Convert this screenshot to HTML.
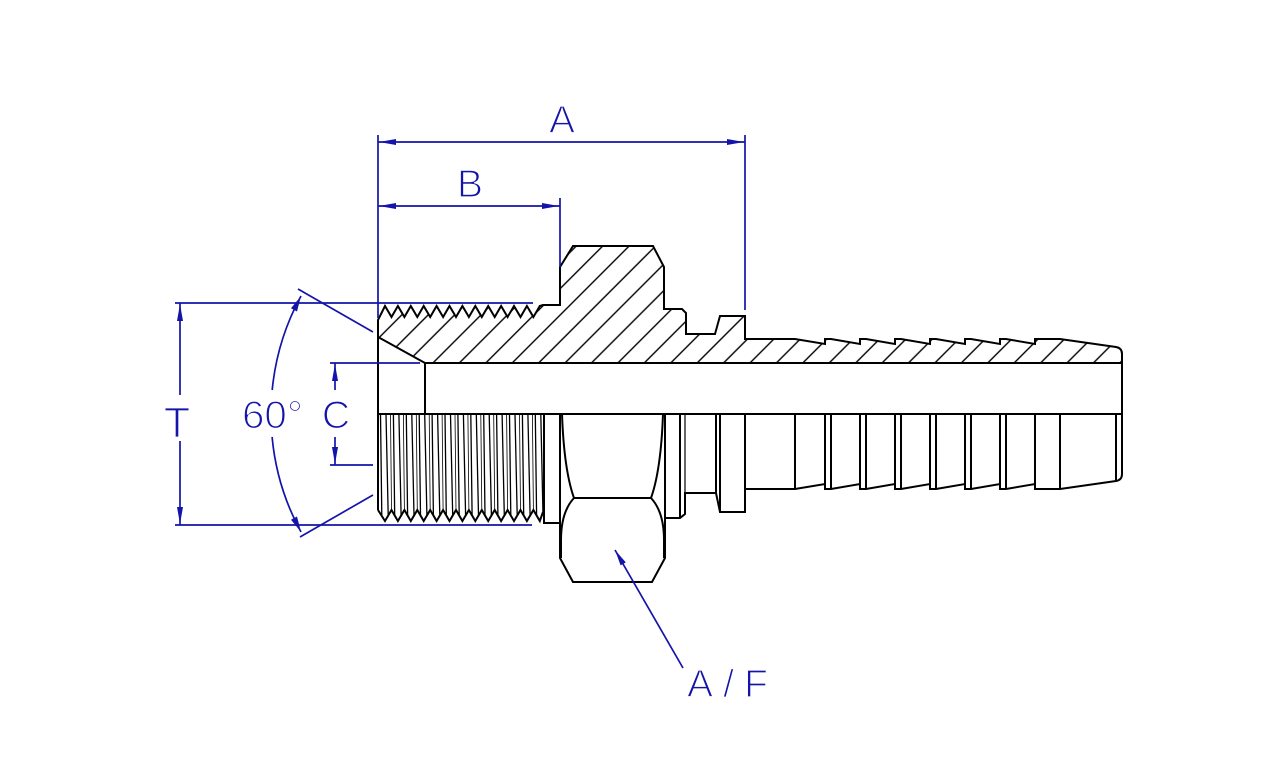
<!DOCTYPE html>
<html><head><meta charset="utf-8"><style>
html,body{margin:0;padding:0;background:#fff;}
svg{display:block;}
text{font-family:"Liberation Sans",sans-serif;fill:#1414aa;stroke:#fff;stroke-width:1.3px;paint-order:fill;}
</style></head><body>
<svg width="1280" height="760" viewBox="0 0 1280 760" xmlns="http://www.w3.org/2000/svg">
<defs>
<pattern id="h" patternUnits="userSpaceOnUse" width="18.68" height="20" patternTransform="rotate(45)">
<line x1="2.4" y1="-1" x2="2.4" y2="21" stroke="#000" stroke-width="1.4"/>
</pattern>
</defs>
<rect width="1280" height="760" fill="#fff"/>

<!-- sectioned upper half -->
<path d="M378,337 L378,320 L385,306 L391.5,317 L397.9,306 L404.4,317 L410.8,306 L417.3,317 L423.7,306 L430.2,317 L436.6,306 L443.1,317 L449.5,306 L456,317 L462.4,306 L468.9,317 L475.3,306 L481.8,317 L488.2,306 L494.7,317 L501.1,306 L507.6,317 L514,306 L520.5,317 L526.9,306 L533.4,317 L539.8,306 L543,305 L560,305 L560,267 L573,246 L653,246 L664,267 L664,309 L682,309 L686,313 L686,334 L715,334 L720,316 L745,316 L745,339 L795,339 L825,344 L825,339 L831,339 L860,344 L860,339 L866,339 L895,344 L895,339 L901,339 L930,344 L930,339 L936,339 L965,344 L965,339 L971,339 L1000,344 L1000,339 L1006,339 L1035,344 L1035,339 L1060,339 L1116,347 Q1122,348 1122,354 L1122,363 L425,363 Z" fill="url(#h)" stroke="#000" stroke-width="2" stroke-linejoin="miter"/>

<g stroke="#000" stroke-width="2" fill="none">
<path d="M378,320 L378,510"/>
<path d="M425,363 L425,414"/>
<path d="M378,414 L1122,414"/>
<!-- bottom thread zigzag -->
<path d="M378,510 L385,521 L391.5,510 L397.9,521 L404.4,510 L410.8,521 L417.3,510 L423.7,521 L430.2,510 L436.6,521 L443.1,510 L449.5,521 L456,510 L462.4,521 L468.9,510 L475.3,521 L481.8,510 L488.2,521 L494.7,510 L501.1,521 L507.6,510 L514,521 L520.5,510 L526.9,521 L533.4,510 L539.8,521 L543,512"/>
<path d="M544,414 L544,523 L560,523"/>
<!-- hex lower -->
<path d="M560,414 L560,558 L573,582 L652,582 L665,558 L665,414"/>
<path d="M562,414 Q564,470 574,498 L651,498 Q661,470 663,414"/>
<path d="M574,498 Q561,512 561,540 L561,558"/>
<path d="M651,498 Q664,512 664,540 L664,558"/>
<!-- rings and barbs lower -->
<path d="M665,518 L680,518 L685,514 L685,493 L716,493 L720,512 L745,512 L745,489 L795,489 L825,484 L825,489 L831,489 L860,484 L860,489 L866,489 L895,484 L895,489 L901,489 L930,484 L930,489 L936,489 L965,484 L965,489 L971,489 L1000,484 L1000,489 L1006,489 L1035,484 L1035,489 L1060,489 L1116,481 Q1122,480 1122,474 L1122,354"/>
<path d="M680,414 L680,518 M716,414 L716,493 M720,414 L720,512 M745,414 L745,512 M795,414 L795,489 M825,414 L825,489 M831,414 L831,489 M860,414 L860,489 M866,414 L866,489 M895,414 L895,489 M901,414 L901,489 M930,414 L930,489 M936,414 L936,489 M965,414 L965,489 M971,414 L971,489 M1000,414 L1000,489 M1006,414 L1006,489 M1035,414 L1035,489 M1060,414 L1060,489 M1116,414 L1116,481"/>
</g>
<path d="M685,414 L685,514" stroke="#000" stroke-width="1.2" fill="none"/>

<!-- thread slivers -->
<g stroke="#000" stroke-width="1.3" fill="none">
<path d="M380.5,414 L381.8,515.5 M386,414 L388.2,515.5
M393.4,414 L394.7,515.5 M398.9,414 L401.1,515.5
M406.3,414 L407.6,515.5 M411.8,414 L414,515.5
M419.2,414 L420.5,515.5 M424.7,414 L426.9,515.5
M432.1,414 L433.4,515.5 M437.6,414 L439.8,515.5
M445,414 L446.3,515.5 M450.5,414 L452.7,515.5
M457.9,414 L459.2,515.5 M463.4,414 L465.6,515.5
M470.8,414 L472.1,515.5 M476.3,414 L478.5,515.5
M483.7,414 L485,515.5 M489.2,414 L491.4,515.5
M496.6,414 L497.9,515.5 M502.1,414 L504.3,515.5
M509.5,414 L510.8,515.5 M515,414 L517.2,515.5
M522.4,414 L523.7,515.5 M527.9,414 L530.1,515.5
M535.3,414 L536.6,515.5 M540.8,414 L543,515.5"/>
</g>
<g stroke="#000" stroke-width="0.8" fill="none">
<path d="M390.5,414 L391.5,510 M403.4,414 L404.4,510 M416.3,414 L417.3,510 M429.2,414 L430.2,510 M442.1,414 L443.1,510 M455,414 L456,510 M467.9,414 L468.9,510 M480.8,414 L481.8,510 M493.7,414 L494.7,510 M506.6,414 L507.6,510 M519.5,414 L520.5,510 M532.4,414 L533.4,510"/>
</g>

<!-- blue dimensions -->
<g stroke="#1414aa" stroke-width="1.7" fill="none">
<path d="M378,142 L745,142 M378,135 L378,318 M745,135 L745,310"/>
<path d="M378,206 L560,206 M560,198 L560,267"/>
<path d="M175,303 L533,303 M175,525 L532,525 M180,303 L180,395 M180,441 L180,525"/>
<path d="M330,363 L420,363 M330,465 L373,465 M335,363 L335,390 M335,437 L335,465"/>
<path d="M301,296 A245,245 0 0 0 272.2,390 M272.1,437 A245,245 0 0 0 301,532"/>
<path d="M298,289 L373,332 M373,495 L300,537"/>
<path d="M615,550 L683,668"/>
</g>
<g fill="#1414aa" stroke="none">
<polygon points="379,142 396,139 396,145"/>
<polygon points="744,142 727,139 727,145"/>
<polygon points="379,206 396,203 396,209"/>
<polygon points="559,206 542,203 542,209"/>
<polygon points="180,304 177,321 183,321"/>
<polygon points="180,524 177,507 183,507"/>
<polygon points="335,364 332,381 338,381"/>
<polygon points="335,464 332,447 338,447"/>
<polygon points="301,296 297,311.5 291,308.2"/>
<polygon points="301,532 297,516.5 291,519.8"/>
<polygon points="615,550 625.8,562.4 620.6,565.4"/>
</g>

<text x="562" y="133" font-size="39" text-anchor="middle">A</text>
<text x="470" y="197" font-size="39" text-anchor="middle">B</text>
<text x="177" y="437" font-size="43" text-anchor="middle">T</text>
<text x="242" y="428" font-size="39" textLength="61" lengthAdjust="spacingAndGlyphs">60°</text>
<text x="336" y="428" font-size="39" text-anchor="middle">C</text>
<text x="687" y="697" font-size="39" textLength="81" lengthAdjust="spacing">A/F</text>
</svg>
</body></html>
